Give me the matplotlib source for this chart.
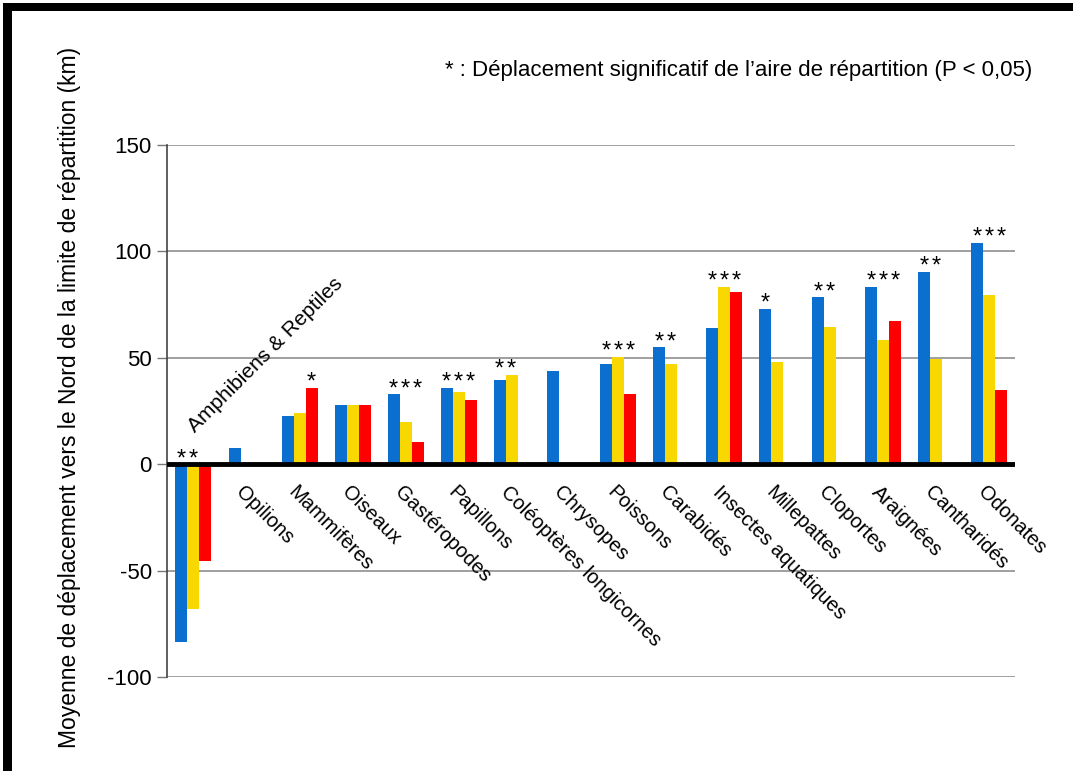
import numpy as np
import matplotlib
matplotlib.use("Agg")
from matplotlib import pyplot as plt
from matplotlib.patches import Rectangle

plt.rcParams['font.family'] = ['Liberation Sans', 'DejaVu Sans']

nan = np.nan
categories = ["Amphibiens & Reptiles", "Opilions", "Mammifères", "Oiseaux", "Gastéropodes",
              "Papillons", "Coléoptères longicornes", "Chrysopes", "Poissons", "Carabidés",
              "Insectes aquatiques", "Millepattes", "Cloportes", "Araignées", "Cantharidés",
              "Odonates"]
blue = [-83.5, 7.5, 22.5, 28, 33, 36, 39.5, 44, 47, 55, 64, 73, 78.5, 83.5, 90.5, 104]
yellow = [-68, nan, 24, 28, 20, 34, 42, nan, 50.5, 47, 83.5, 48, 64.5, 58.5, 49.5, 79.5]
red = [-45.5, nan, 36, 28, 10.5, 30, nan, nan, 33, nan, 81, nan, nan, 67.5, nan, 35]
stars = [2, 0, 1, 0, 3, 3, 2, 0, 3, 2, 3, 1, 2, 3, 2, 3]
# which bars (0 blue, 1 yellow, 2 red) the stars sit over
star_bars = [(0, 1), (), (2,), (), (0, 1, 2), (0, 1, 2), (0, 1), (), (0, 1, 2), (0, 1),
             (0, 1, 2), (0,), (0, 1), (0, 1, 2), (0, 1), (0, 1, 2)]
yticks = [-100, -50, 0, 50, 100, 150]
note = "* : Déplacement significatif de l’aire de répartition (P < 0,05)"
ylabel = "Moyenne de déplacement vers le Nord de la limite de répartition (km)"

colors = ['#0a6fcf', '#f8d800', '#ff0000']
series = [blue, yellow, red]
w = 0.226

fig = plt.figure(figsize=(10.73, 7.71), dpi=100)
ax = fig.add_axes([0.1556, 0.1219, 0.7908, 0.69])

x = np.arange(len(categories))
for k, (vals, c) in enumerate(zip(series, colors)):
    ax.bar(x + (k - 1) * w, vals, width=w, color=c, zorder=3)

ax.set_xlim(-0.5, len(categories) - 0.5)
ax.set_ylim(-100, 150)
ax.set_yticks(yticks)
ax.set_yticklabels([str(t) for t in yticks], fontsize=16)
ax.tick_params(axis='y', length=7, width=1, color='#777777', pad=4)
ax.set_xticks([])
for t in yticks:
    if t != 0:
        ax.axhline(t, color='#858585', lw=1.1, zorder=1)
ax.axhline(0, color='black', lw=3.5, zorder=4)
for s in ['top', 'right', 'bottom']:
    ax.spines[s].set_visible(False)
ax.spines['left'].set_color('#444444')
ax.spines['left'].set_linewidth(1.2)

# significance stars, one per bar width
for i, n in enumerate(stars):
    if n == 0:
        continue
    vals = [series[k][i] for k in range(3)]
    top = max(0, np.nanmax(vals))
    xc = np.mean([i + (k - 1) * w for k in star_bars[i]])
    for j in range(n):
        ax.text(xc + (j - (n - 1) / 2) * w, top - 0.5, "*", ha='center', va='baseline',
                fontsize=17, zorder=5)

# category labels
for i, name in enumerate(categories):
    if i == 0:
        ax.text(i + 0.04, 14.5, name, rotation=45, rotation_mode='anchor',
                ha='left', va='baseline', fontsize=15)
    else:
        ax.text(i - 0.02, -8.5, name, rotation=-45, rotation_mode='anchor',
                ha='left', va='top', fontsize=14.5)

fig.text(0.065, 0.484, ylabel, rotation=90, ha='center', va='center', fontsize=16.5)
fig.text(0.4147, 0.908, note, ha='left', va='center', fontsize=16)

# black frame on top and left
fig.add_artist(Rectangle((3 / 1073, 1 - 11 / 771), 1, 8 / 771, transform=fig.transFigure,
                         color='black', lw=0))
fig.add_artist(Rectangle((3 / 1073, 0), 9 / 1073, 1 - 3 / 771, transform=fig.transFigure,
                         color='black', lw=0))

fig.savefig('out.png', dpi=100)
